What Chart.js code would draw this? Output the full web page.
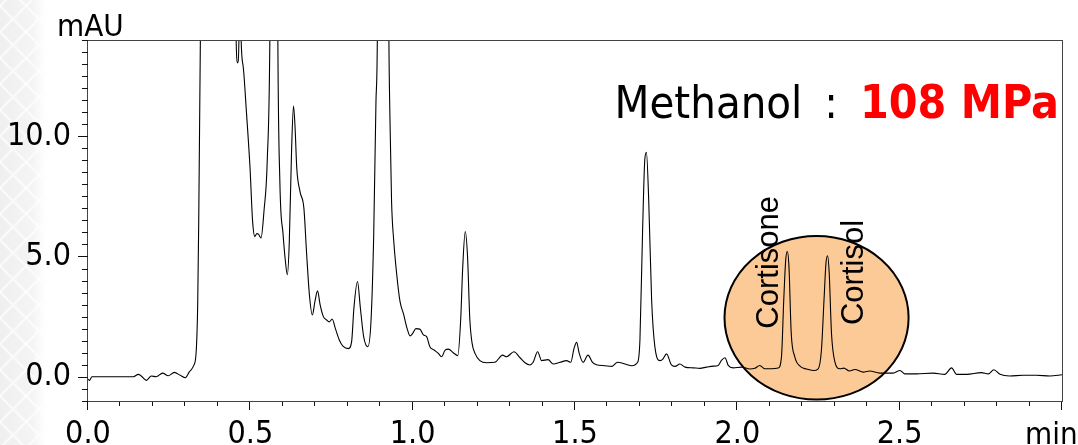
<!DOCTYPE html>
<html>
<head>
<meta charset="utf-8">
<script src="https://cdn.jsdelivr.net/npm/chart.js@4/dist/chart.umd.min.js"></script>
<style>
  html, body { margin: 0; padding: 0; background: #fff; }
  #chrom { display: block; }
</style>
</head>
<body>
<canvas id="chrom" width="1078" height="445"></canvas>
<script>
// retention time (min) and absorbance (mAU)
const time = [
  0.000, 0.005, 0.012, 0.050, 0.100, 0.140, 0.155, 0.165, 0.180, 0.195,
  0.210, 0.230, 0.247, 0.266, 0.284, 0.300, 0.312, 0.325, 0.333, 0.338,
  0.341, 0.3465, 0.360, 0.400, 0.440, 0.4555, 0.461, 0.4655, 0.468, 0.4705,
  0.478, 0.488, 0.499, 0.507, 0.514, 0.520, 0.525, 0.533, 0.542, 0.552,
  0.5605, 0.570, 0.578, 0.5845, 0.591, 0.601, 0.608, 0.614, 0.620, 0.627,
  0.633, 0.638, 0.643, 0.653, 0.665, 0.673, 0.682, 0.691, 0.699, 0.707,
  0.715, 0.725, 0.735, 0.743, 0.752, 0.762, 0.774, 0.786, 0.802, 0.812,
  0.819, 0.830, 0.839, 0.849, 0.862, 0.872, 0.880, 0.887, 0.8915, 0.900,
  0.915, 0.9265, 0.930, 0.935, 0.942, 0.951, 0.961, 0.972, 0.983, 0.992,
  1.000, 1.010, 1.022, 1.033, 1.043, 1.053, 1.066, 1.079, 1.089, 1.100,
  1.110, 1.125, 1.139, 1.148, 1.154, 1.162, 1.169, 1.176, 1.183, 1.192,
  1.207, 1.228, 1.253, 1.277, 1.289, 1.312, 1.330, 1.346, 1.361, 1.371,
  1.385, 1.397, 1.417, 1.433, 1.454, 1.474, 1.487, 1.497, 1.505, 1.513,
  1.525, 1.540, 1.554, 1.566, 1.592, 1.613, 1.631, 1.654, 1.675, 1.693,
  1.700, 1.708, 1.715, 1.720, 1.727, 1.736, 1.746, 1.762, 1.770, 1.782,
  1.797, 1.808, 1.823, 1.839, 1.864, 1.885, 1.905, 1.926, 1.941, 1.951,
  1.962, 1.972, 1.987, 2.013, 2.039, 2.054, 2.069, 2.085, 2.105, 2.126,
  2.136, 2.143, 2.149, 2.154, 2.159, 2.166, 2.177, 2.193, 2.213, 2.234,
  2.249, 2.259, 2.267, 2.273, 2.278, 2.283, 2.290, 2.300, 2.316, 2.328,
  2.345, 2.362, 2.388, 2.408, 2.439, 2.480, 2.501, 2.516, 2.552, 2.603,
  2.639, 2.660, 2.675, 2.706, 2.752, 2.773, 2.790, 2.809, 2.839, 2.880,
  2.921, 2.963, 3.000
];
const mAU = [
  -0.10, -0.15, 0.00, 0.00, 0.00, 0.00, 0.10, 0.02, -0.15, 0.03,
  0.00, 0.15, 0.04, 0.18, 0.06, -0.04, 0.20, 0.45, 1.0, 3.1,
  6.4, 14.6, 40, 60, 40, 14.6, 13.05, 14.6, 20, 14.6,
  12.9, 11.0, 8.7, 6.46, 5.83, 5.95, 5.93, 5.77, 6.88, 8.96,
  14.6, 40, 40, 14.6, 8.1, 5.9, 4.8, 4.24, 5.6, 9.4,
  11.25, 10.3, 8.68, 7.7, 7.0, 5.2, 3.4, 2.57, 3.13, 3.57,
  2.99, 2.5, 2.36, 2.28, 2.4, 2.0, 1.53, 1.26, 1.17, 1.46,
  2.85, 3.96, 2.85, 1.67, 1.25, 2.4, 5.9, 11.46, 14.6, 50,
  50, 14.6, 10.77, 7.3, 5.6, 4.24, 3.13, 2.6, 2.0, 1.7,
  1.8, 2.0, 1.98, 1.74, 1.67, 1.25, 1.11, 0.97, 0.83, 1.11,
  1.15, 1.0, 0.88, 2.4, 4.5, 6.04, 5.0, 2.4, 1.4, 0.97,
  0.67, 0.58, 0.6, 0.9, 0.83, 1.04, 0.8, 0.58, 0.49, 0.6,
  1.04, 0.67, 0.71, 0.53, 0.6, 0.67, 0.6, 1.18, 1.43, 0.97,
  0.6, 0.9, 0.6, 0.5, 0.46, 0.43, 0.6, 0.53, 0.46, 0.6,
  1.53, 5.97, 9.03, 9.33, 7.36, 3.2, 1.25, 0.67, 0.72, 0.95,
  0.49, 0.43, 0.53, 0.4, 0.37, 0.35, 0.4, 0.44, 0.47, 0.68,
  0.79, 0.47, 0.37, 0.4, 0.32, 0.35, 0.47, 0.33, 0.33, 0.36,
  0.83, 3.2, 4.86, 5.21, 4.58, 1.81, 0.83, 0.44, 0.32, 0.26,
  0.33, 1.1, 3.2, 4.72, 5.03, 4.3, 1.81, 0.64, 0.33, 0.36,
  0.24, 0.3, 0.19, 0.24, 0.15, 0.15, 0.26, 0.12, 0.12, 0.15,
  0.10, 0.37, 0.10, 0.10, 0.17, 0.12, 0.29, 0.10, 0.03, 0.06,
  0.06, 0.03, 0.08
];

const xLabelValues = [0, 0.5, 1.0, 1.5, 2.0, 2.5];
const xLabelText = ["0.0", "0.5", "1.0", "1.5", "2.0", "2.5"];
const yLabelValues = [0, 5, 10];
const yLabelText = ["0.0", "5.0", "10.0"];
const xUnit = "min";
const yUnit = "mAU";
const titleText = "Methanol";
const pressureText = "108 MPa";
const peakNames = ["Cortisone", "Cortisol"];

const tickFont = "'DejaVu Sans Condensed', 'DejaVu Sans', sans-serif";

function labelFor(values, texts, v) {
  const i = values.findIndex((x) => Math.abs(x - v) < 1e-6);
  return i >= 0 ? texts[i] : "";
}

// left-edge pale pattern, axis frame, tick marks, circle and notes
const decor = {
  id: "decor",
  beforeDraw(chart) {
    const c = chart.ctx;
    c.save();
    const g = c.createLinearGradient(0, 0, 46, 0);
    g.addColorStop(0, "#efefef");
    g.addColorStop(0.7, "#f4f4f4");
    g.addColorStop(1, "#ffffff");
    c.fillStyle = g;
    c.fillRect(0, 0, 46, chart.height);
    c.strokeStyle = "rgba(255,255,255,0.6)";
    c.lineWidth = 2.5;
    for (let y = -20; y < chart.height + 20; y += 26) {
      for (let x = 0; x < 40; x += 26) {
        c.beginPath();
        c.moveTo(x, y);
        c.lineTo(x + 13, y + 13);
        c.lineTo(x, y + 26);
        c.moveTo(x + 26, y);
        c.lineTo(x + 13, y + 13);
        c.lineTo(x + 26, y + 26);
        c.stroke();
      }
    }
    c.restore();
  },
  beforeDatasetsDraw(chart) {
    const { ctx: c, scales: { x, y } } = chart;
    const cx = x.getPixelForValue(2.244);
    const cy = y.getPixelForValue(2.45);
    const rx = x.getPixelForValue(2.244 + 0.2835) - cx;
    const ry = cy - y.getPixelForValue(2.45 + 3.4);
    c.save();
    c.beginPath();
    c.ellipse(cx, cy, rx, ry, 0, 0, Math.PI * 2);
    c.fillStyle = "#fcca97";
    c.fill();
    c.lineWidth = 2;
    c.strokeStyle = "#000";
    c.stroke();
    c.restore();
  },
  afterDatasetsDraw(chart) {
    const { ctx: c, chartArea: a, scales: { x, y } } = chart;
    c.save();
    // frame
    c.strokeStyle = "#444";
    c.lineWidth = 1;
    c.strokeRect(Math.round(a.left) - 0.5, Math.round(a.top) + 0.5,
      Math.round(a.right - a.left) + 1, Math.round(a.bottom - a.top) - 1);
    c.strokeStyle = "#111";
    c.beginPath();
    x.ticks.forEach((t) => {
      const px = Math.round(x.getPixelForValue(t.value)) - 0.5;
      const len = Math.abs(t.value * 2 - Math.round(t.value * 2)) < 1e-6 ? 8 : 4;
      c.moveTo(px, a.bottom);
      c.lineTo(px, a.bottom + len);
    });
    y.ticks.forEach((t) => {
      const py = Math.round(y.getPixelForValue(t.value)) + 0.5;
      const len = Math.abs(t.value / 5 - Math.round(t.value / 5)) < 1e-6 ? 10 : 6;
      c.moveTo(a.left, py);
      c.lineTo(a.left - len, py);
    });
    c.stroke();

    // axis units
    c.fillStyle = "#000";
    c.font = "31px " + tickFont;
    c.textAlign = "left";
    c.textBaseline = "alphabetic";
    c.fillText(yUnit, 57, 36);
    c.fillText(xUnit, 1025, 444);

    // title
    c.textAlign = "right";
    c.font = "bold 46px " + tickFont;
    c.fillStyle = "#ff0000";
    const redRight = a.right - 3;
    c.fillText(pressureText, redRight, 118);
    const redLeft = redRight - c.measureText(pressureText).width;
    c.font = "45px " + tickFont;
    c.fillStyle = "#000";
    const colonRight = redLeft - 22;
    c.fillText(":", colonRight, 118);
    const colonLeft = colonRight - c.measureText(":").width;
    c.fillText(titleText, colonLeft - 22, 118);

    // peak names, rotated
    c.font = "31px 'Liberation Sans', Arial, sans-serif";
    c.textAlign = "left";
    const notes = [[2.125, 2.0], [2.387, 2.15]];
    peakNames.forEach((name, i) => {
      c.save();
      c.translate(x.getPixelForValue(notes[i][0]), y.getPixelForValue(notes[i][1]));
      c.rotate(-Math.PI / 2);
      c.fillText(name, 0, 0);
      c.restore();
    });
    c.restore();
  }
};

new Chart(document.getElementById("chrom").getContext("2d"), {
  type: "line",
  data: {
    datasets: [{
      data: time.map((t, i) => ({ x: t, y: mAU[i] })),
      borderColor: "#000",
      borderWidth: 1.1,
      pointRadius: 0,
      fill: false,
      cubicInterpolationMode: "monotone"
    }]
  },
  options: {
    responsive: false,
    animation: false,
    layout: { padding: { left: 0, top: 40, right: 16, bottom: 0 } },
    plugins: { legend: { display: false }, tooltip: { enabled: false } },
    scales: {
      x: {
        type: "linear",
        min: 0,
        max: 3,
        afterBuildTicks(s) {
          const t = [];
          for (let i = 0; i <= 30; i++) t.push({ value: i / 10 });
          s.ticks = t;
        },
        afterFit(s) { s.height = 43; },
        grid: { display: false, drawTicks: false },
        border: { display: false },
        ticks: {
          autoSkip: false,
          maxRotation: 0,
          padding: 13,
          color: "#000",
          font: { family: tickFont, size: 32 },
          callback: (v) => labelFor(xLabelValues, xLabelText, v)
        }
      },
      y: {
        type: "linear",
        min: -1.05,
        max: 14,
        afterBuildTicks(s) {
          const t = [];
          for (let i = -2; i <= 28; i++) t.push({ value: i / 2 });
          s.ticks = t;
        },
        afterFit(s) { s.width = 88; },
        grid: { display: false, drawTicks: false },
        border: { display: false },
        ticks: {
          autoSkip: false,
          padding: 17,
          color: "#000",
          font: { family: tickFont, size: 32 },
          callback: (v) => labelFor(yLabelValues, yLabelText, v)
        }
      }
    }
  },
  plugins: [decor]
});
</script>
</body>
</html>
